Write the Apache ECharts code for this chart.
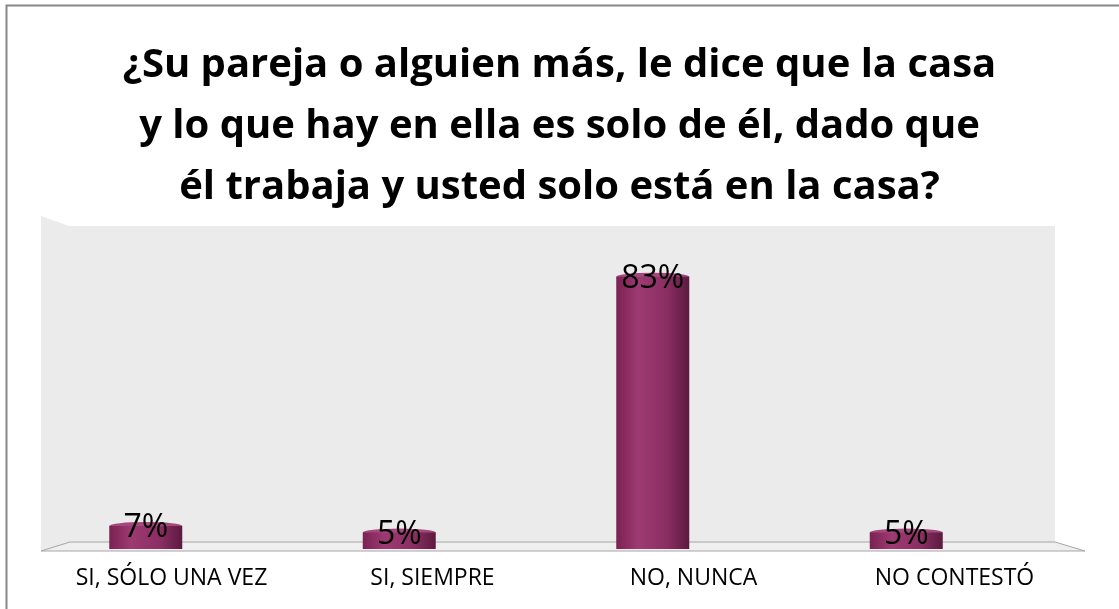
<!DOCTYPE html>
<html>
<head>
<meta charset="utf-8">
<script src="https://cdn.jsdelivr.net/npm/echarts@6/dist/echarts.min.js"></script>
<style>
html, body { margin: 0; padding: 0; background: #fff; }
#chart { width: 1119px; height: 609px; }
</style>
</head>
<body>
<div id="chart"></div>
<script>
const titleText = "¿Su pareja o alguien más, le dice que la casa\ny lo que hay en ella es solo de él, dado que\nél trabaja y usted solo está en la casa?";
const categories = ["SI, SÓLO UNA VEZ", "SI, SIEMPRE", "NO, NUNCA", "NO CONTESTÓ"];
const values = [7, 5, 83, 5];

const chart = echarts.init(document.getElementById("chart"));

const barColor = {
	type: "linear", x: 0, y: 0, x2: 1, y2: 0,
	colorStops: [
		{ offset: 0, color: "#7a2252" },
		{ offset: 0.3, color: "#9d3a72" },
		{ offset: 0.7, color: "#8a2e62" },
		{ offset: 1, color: "#5c1a3f" }
	]
};

chart.setOption({
	backgroundColor: "#fff",
	animation: false,
	title: {
		text: titleText,
		left: "center",
		top: 30,
		textStyle: {
			fontFamily: "Open Sans",
			fontWeight: "bold",
			fontSize: 40,
			lineHeight: 61,
			color: "#000"
		}
	},
	graphic: [
		// outer border
		{
			type: "polyline",
			shape: { points: [[6.5, 700], [6.5, 5.5], [1200, 5.5]] },
			style: { stroke: "#888", lineWidth: 2, fill: null },
			z: 0
		},
		// back wall
		{
			type: "polygon",
			shape: { points: [[41, 216], [69, 226], [1055, 226], [1055, 542], [41, 551]] },
			style: { fill: "#ebebeb" },
			z: 0
		},
		// floor
		{
			type: "polygon",
			shape: { points: [[70, 542], [1055, 542], [1085, 551], [41, 551]] },
			style: { fill: "#efefef", stroke: "#a6a6a6", lineWidth: 1 },
			z: 0
		}
	],
	grid: [
		// bars (back of the floor, perspective)
		{ left: 19, right: 86, top: 221, bottom: 60 },
		// labels along the front edge of the floor
		{ left: 41, right: 34, top: 221, bottom: 58 }
	],
	xAxis: [
		{
			type: "category",
			gridIndex: 0,
			data: categories,
			axisLine: { show: false },
			axisTick: { show: false },
			axisLabel: { show: false }
		},
		{
			type: "category",
			gridIndex: 1,
			data: categories,
			axisLine: { show: false },
			axisTick: { show: false },
			axisLabel: {
				margin: 16,
				fontFamily: "Open Sans",
				fontSize: 23,
				color: "#000",
				interval: 0
			}
		}
	],
	yAxis: [
		{ type: "value", gridIndex: 0, min: 0, max: 100, show: false },
		{ type: "value", gridIndex: 1, min: 0, max: 100, show: false }
	],
	series: [
		{
			type: "bar",
			data: values,
			barWidth: 73,
			itemStyle: { color: barColor },
			label: {
				show: true,
				position: "top",
				distance: -18,
				formatter: "{c}%",
				fontFamily: "Open Sans",
				fontSize: 32,
				color: "#000"
			},
			z: 3
		},
		{
			type: "pictorialBar",
			data: values,
			symbol: "circle",
			symbolSize: [73, 8],
			symbolPosition: "end",
			symbolOffset: [0, "-50%"],
			itemStyle: { color: "#a4477d" },
			z: 2,
			silent: true
		}
	]
});
</script>
</body>
</html>
